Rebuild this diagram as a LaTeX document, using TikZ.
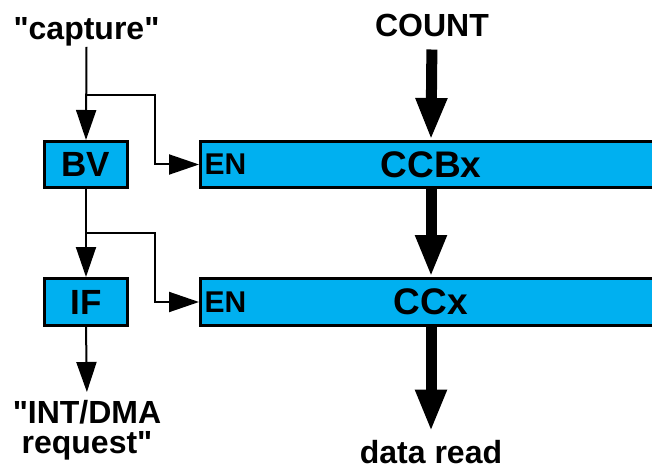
\documentclass[tikz,border=0pt]{standalone}
\usepackage{fontspec}
\setmainfont{Liberation Sans}
\usetikzlibrary{arrows.meta,positioning}
\definecolor{regcyan}{RGB}{0,176,240}

\begin{document}
\begin{tikzpicture}[
  x=1pt,y=-1pt,
  flag/.style={draw,line width=3pt,fill=regcyan,minimum width=83pt,minimum height=46pt,inner sep=0pt,font=\fontsize{35}{35}\selectfont\bfseries},
  reg/.style={draw,line width=3pt,fill=regcyan,minimum width=461pt,minimum height=46pt,inner sep=0pt,font=\fontsize{37}{37}\selectfont\bfseries},
  enable/.style={anchor=west,inner sep=0pt,font=\fontsize{30}{30}\selectfont\bfseries},
  lbl/.style={align=center,inner sep=0pt,font=\fontsize{32}{30}\selectfont\bfseries},
  ctrl/.style={line width=2pt,-{Triangle[length=30pt,width=20pt]}},
  bus/.style={line width=11pt,-{Triangle[length=42pt,width=29pt]}}
]
  \useasboundingbox (0,0) rectangle (652,470);

  \node[flag] (bv) at (86,164.5) {BV};
  \node[flag,minimum height=47pt] (if) at (86,302) {IF};
  \node[reg] (ccbx) at (431,164.5) {CCBx};
  \node[reg,minimum height=47pt] (ccx) at (431,302) {CCx};
  \node[enable] (en1) at ([xshift=5.5pt]ccbx.west) {EN};
  \node[enable] (en2) at ([xshift=5.5pt]ccx.west) {EN};

  \node[lbl,anchor=base] (capture) at (86.5,40) {\textquotedbl capture\textquotedbl};
  \node[lbl,anchor=base] (count) at (432,37) {COUNT};
  \node[lbl,anchor=north] (irq) at (87,400) {\textquotedbl INT/DMA\\request\textquotedbl};
  \node[lbl,anchor=base] (data) at (431,463) {data read};

  \coordinate (b1) at (87,95);
  \coordinate (k1) at (155,95);
  \coordinate (b2) at (87,233);
  \coordinate (k2) at (155,233);

  \draw[ctrl] (capture.south) -- (bv.north);
  \draw[ctrl] (b1) -- (k1) |- (ccbx.west);
  \draw[ctrl] (bv.south) -- (if.north);
  \draw[ctrl] (b2) -- (k2) |- (ccx.west);
  \draw[ctrl,shorten >=8pt] (if.south) -- (irq.north);

  \draw[bus,shorten <=12pt] (count.south) -- (ccbx.north);
  \draw[bus] (ccbx.south) -- (ccx.north);
  \draw[bus,shorten >=8pt] (ccx.south) -- (data.north);
\end{tikzpicture}
\end{document}
